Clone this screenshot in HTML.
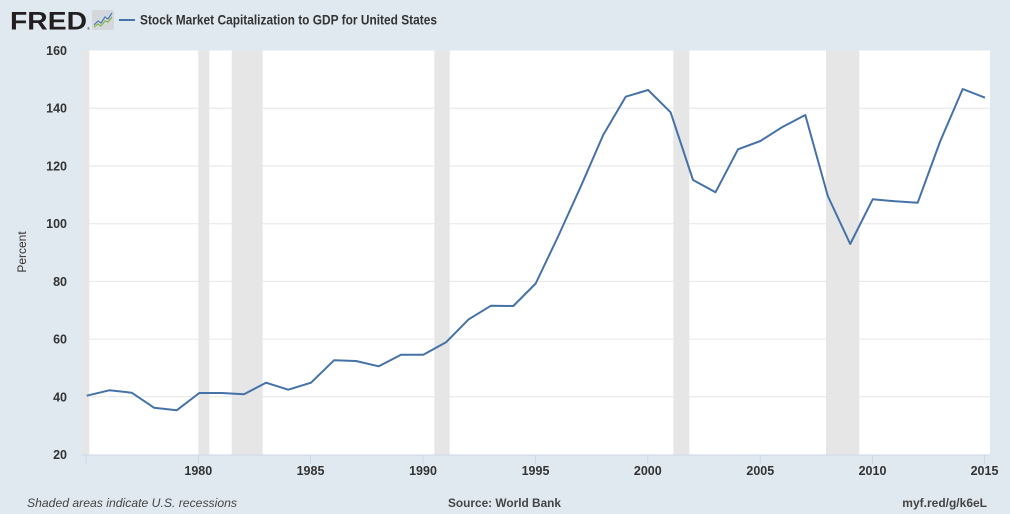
<!DOCTYPE html>
<html><head><meta charset="utf-8"><style>
html,body{margin:0;padding:0;background:#e1e9f0;}
svg{display:block;}
text{font-family:"Liberation Sans",Arial,sans-serif;}
</style></head><body>
<svg width="1010" height="514" viewBox="0 0 1010 514" xmlns="http://www.w3.org/2000/svg">
<rect x="0" y="0" width="1010" height="514" fill="#e1e9f0"/>
<!-- header -->
<text x="10" y="29.5" font-size="25" font-weight="bold" fill="#231f20" textLength="77" lengthAdjust="spacingAndGlyphs">FRED</text>
<text x="87" y="30" font-size="4" fill="#231f20">®</text>
<rect x="92" y="10" width="22" height="20" rx="2" fill="#d4d8dc"/>
<polyline points="94,25 98,21 101,23 105,17 108,19 112,13" fill="none" stroke="#4a7ab5" stroke-width="1.2"/>
<polyline points="94,27 98,24 101,26 105,21 108,22 112,17" fill="none" stroke="#8bb34a" stroke-width="1.2"/>
<line x1="119" y1="20" x2="135" y2="20" stroke="#4572a7" stroke-width="2"/>
<text x="140" y="24.5" font-size="13.5" font-weight="bold" fill="#333" textLength="297" lengthAdjust="spacingAndGlyphs">Stock Market Capitalization to GDP for United States</text>
<!-- plot area -->
<rect x="82" y="50.5" width="908" height="404" fill="#ffffff"/>
<!-- recessions -->
<g fill="#e6e6e6">
<rect x="82" y="50.5" width="7.3" height="404"/>
<rect x="198.3" y="50.5" width="11" height="404"/>
<rect x="231.7" y="50.5" width="31" height="404"/>
<rect x="434.3" y="50.5" width="15.4" height="404"/>
<rect x="673.3" y="50.5" width="16" height="404"/>
<rect x="826" y="50.5" width="33.3" height="404"/>
</g>
<!-- gridlines -->
<g stroke="#e6e6e6" stroke-width="1">
<line x1="82" y1="108.2" x2="990" y2="108.2"/>
<line x1="82" y1="166" x2="990" y2="166"/>
<line x1="82" y1="223.7" x2="990" y2="223.7"/>
<line x1="82" y1="281.4" x2="990" y2="281.4"/>
<line x1="82" y1="339.1" x2="990" y2="339.1"/>
<line x1="82" y1="396.8" x2="990" y2="396.8"/>
</g>
<!-- x axis -->
<line x1="82" y1="455" x2="990" y2="455" stroke="#ccd6eb" stroke-width="1"/>
<g stroke="#ccd6eb" stroke-width="1">
<line x1="86" y1="455" x2="86" y2="464"/>
<line x1="198.3" y1="455" x2="198.3" y2="464"/>
<line x1="310.5" y1="455" x2="310.5" y2="464"/>
<line x1="423" y1="455" x2="423" y2="464"/>
<line x1="535.5" y1="455" x2="535.5" y2="464"/>
<line x1="647.8" y1="455" x2="647.8" y2="464"/>
<line x1="760.3" y1="455" x2="760.3" y2="464"/>
<line x1="872.5" y1="455" x2="872.5" y2="464"/>
<line x1="984.5" y1="455" x2="984.5" y2="464"/>
</g>
<g font-size="12.5" font-weight="bold" fill="#333" text-anchor="middle">
<text x="198.3" y="475">1980</text>
<text x="310.5" y="475">1985</text>
<text x="423" y="475">1990</text>
<text x="535.5" y="475">1995</text>
<text x="647.8" y="475">2000</text>
<text x="760.3" y="475">2005</text>
<text x="872.5" y="475">2010</text>
<text x="984.5" y="475">2015</text>
</g>
<!-- y labels -->
<g font-size="12.5" font-weight="bold" fill="#333" text-anchor="end">
<text x="67" y="55">160</text>
<text x="67" y="112.7">140</text>
<text x="67" y="170.5">120</text>
<text x="67" y="228.2">100</text>
<text x="67" y="285.9">80</text>
<text x="67" y="343.6">60</text>
<text x="67" y="401.3">40</text>
<text x="67" y="459">20</text>
</g>
<text x="0" y="0" transform="translate(26,252) rotate(-90)" font-size="12" fill="#333" text-anchor="middle">Percent</text>
<!-- series -->
<polyline fill="none" stroke="#4572a7" stroke-width="2" stroke-linejoin="round" points="
86.7,395.7 109.3,390.3 131.7,392.7 154,407.7 176.7,410.3 199.3,393 221.7,393 244,394.3 266,382.7 288.3,389.7 311,382.7 334,360.3 356,361 378.7,366.3 401,354.7 423.3,354.7 446,342.3 468.7,319.3 491,305.7 513.3,306 535.7,283.5 558.3,236 580.7,186.7 603.2,135 625.7,96.7 648.1,90 670.6,112.3 693,180 715.5,192.3 738,149.3 760.4,141 782.9,126.7 805.3,115 827.8,196 850.2,244 872.7,199.3 895.2,201.3 917.7,202.7 940.1,141.5 962.7,89 985,97.7"/>
<!-- footer -->
<text x="27" y="507" font-size="12" font-style="italic" fill="#444" textLength="210" lengthAdjust="spacingAndGlyphs">Shaded areas indicate U.S. recessions</text>
<text x="448" y="507" font-size="12" font-weight="bold" fill="#444" textLength="113" lengthAdjust="spacingAndGlyphs">Source: World Bank</text>
<text x="987" y="507" font-size="12" font-weight="bold" fill="#444" text-anchor="end">myf.red/g/k6eL</text>
</svg>
</body></html>
